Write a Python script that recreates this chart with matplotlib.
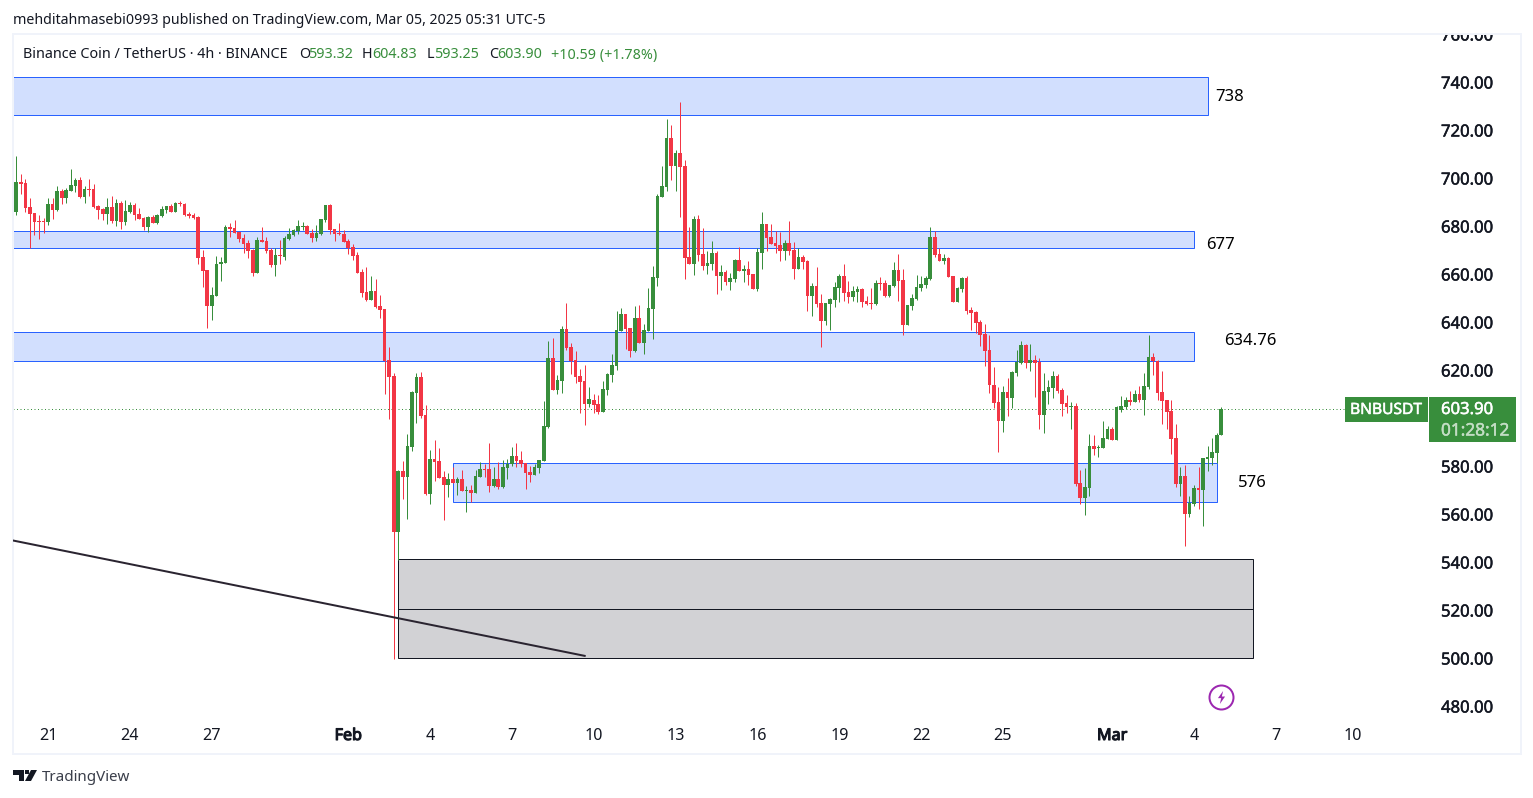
# BNB/USDT 4h chart, TradingView style
import numpy as np
import matplotlib
matplotlib.use('Agg')
import matplotlib.pyplot as plt
import matplotlib.patheffects as pe
from matplotlib.patches import Rectangle, Polygon

plt.rcParams['font.family'] = ['Noto Sans', 'DejaVu Sans']

W, H = 1533, 798

# G = green candle, R = red candle
directions = ('GRRRRRRGRG' 'RGGGRGRRRR' 'GRGRGGRRRG' 'RGGGRGRRRR'
              'RRRGGGGRRR' 'RRRGRRRGRG' 'GGGGRRGGGR' 'RRRRRRRRGR'
              'RRRRGRGGGR' 'RGRRRGRGRG' 'RGGRRGRGGG' 'RRRRGGGGRG'
              'GRRRRRGRRG' 'GGGGRRGRGG' 'GGGGRGRRRG' 'RRGGRGRGGR'
              'GRRGGRRRRG' 'RRGRRGRRGG' 'GGRRGGRRRG' 'RRGGRRGGGG'
              'GGRRGRRGGR' 'RRRRRRRGRG' 'GGRGRRGGGR' 'RRGRRGGRGG'
              'GRGGGRGRGG' 'RRRRRRGRGG' 'RGGGGG')

highs = [
    709.4,701.9,699.6,691.7,685.6,684.8,683.5,691.9,691.9,696.9,
    695.6,696.0,703.9,700.2,700.6,696.9,699.8,697.7,688.9,687.7,
    691.9,692.7,691.4,690.6,691.0,690.2,689.8,687.7,683.9,684.4,
    684.8,685.2,688.5,688.5,689.4,690.2,690.6,689.8,686.0,685.6,
    684.4,670.2,661.9,654.8,667.7,667.3,680.6,681.4,682.7,677.7,
    676.9,674.4,670.6,675.6,679.8,675.6,671.0,671.0,674.4,676.0,
    679.4,678.9,682.7,681.9,680.6,678.9,680.6,683.1,689.0,689.4,
    678.9,681.5,678.5,674.8,672.7,669.4,662.3,663.1,659.4,658.1,
    651.5,645.6,629.8,618.9,578.5,582.3,593.5,611.4,618.9,619.4,
    605.6,586.9,591.0,587.7,578.1,577.3,579.8,575.6,578.5,571.9,
    572.3,578.5,581.9,581.0,589.8,579.8,581.9,582.7,583.1,588.1,
    589.8,586.4,581.4,580.2,581.0,582.7,607.3,632.3,633.5,618.1,
    638.6,648.1,631.5,628.1,620.6,622.3,613.1,610.2,609.8,615.6,
    619.0,626.9,644.8,646.0,643.6,637.7,646.9,647.3,639.4,654.4,
    663.6,693.6,705.2,724.8,722.3,711.9,731.9,707.7,679.8,684.4,
    684.8,679.4,669.8,674.0,669.8,664.0,661.9,660.6,666.5,671.3,
    664.0,665.6,660.2,671.0,686.0,681.0,681.0,678.1,677.7,674.4,
    682.3,673.5,671.0,668.1,666.0,656.4,663.1,651.9,648.1,650.2,
    656.9,660.2,664.4,657.3,655.2,655.2,654.4,651.0,654.4,657.7,
    658.9,657.7,655.6,665.2,668.5,662.3,647.3,651.9,659.8,659.4,
    659.4,679.8,678.1,671.0,668.5,667.3,659.4,654.8,658.9,659.4,
    646.5,644.8,641.0,639.4,634.8,621.5,613.1,613.5,616.9,619.8,
    628.5,632.3,631.0,631.0,626.5,625.2,618.9,616.0,619.8,618.5,
    612.7,609.8,606.9,606.4,578.5,579.4,593.5,593.1,588.9,598.9,
    596.9,596.5,605.2,609.4,608.9,611.4,611.9,613.5,618.9,634.8,
    627.3,624.4,619.8,607.7,607.7,597.7,579.8,580.6,567.7,572.3,
    579.8,583.5,588.5,591.9,593.9,604.83]

body_tops = [
    698.5,698.5,698.1,688.1,685.6,682.3,682.3,689.4,689.4,694.8,
    694.8,695.2,697.3,699.4,699.4,695.6,695.6,695.6,688.5,687.3,
    688.1,688.1,689.8,689.8,686.4,689.0,689.0,685.2,683.5,683.9,
    683.9,684.8,687.3,688.5,688.5,689.8,689.8,689.4,685.2,684.8,
    683.9,667.3,661.9,651.5,664.4,665.2,679.8,679.8,679.4,677.7,
    675.2,673.1,670.2,674.4,674.4,673.9,670.2,668.1,668.1,675.2,
    676.9,678.5,680.2,680.2,680.2,677.3,677.3,683.1,689.0,689.0,
    678.9,677.3,676.9,673.9,671.5,668.1,661.0,652.7,653.1,653.1,
    646.9,645.6,624.4,617.7,578.1,578.1,588.5,611.0,617.3,617.3,
    601.4,583.1,583.1,582.3,575.6,574.8,574.8,574.8,574.8,570.2,
    570.2,576.0,578.9,578.9,578.9,574.8,574.8,579.8,581.0,584.4,
    584.4,582.7,581.4,577.7,579.8,582.7,596.9,625.2,625.2,616.0,
    637.3,637.3,629.8,624.4,617.7,615.6,608.1,607.7,606.0,612.3,
    618.6,622.3,636.9,643.6,643.6,637.7,641.9,641.9,636.9,646.0,
    659.0,692.7,696.9,716.9,716.9,710.6,710.6,705.2,667.3,683.1,
    683.1,668.6,664.8,669.0,669.0,661.0,661.0,658.5,666.0,666.0,
    662.3,662.3,660.2,669.4,681.0,681.0,675.6,673.1,672.3,673.1,
    673.1,670.2,667.3,667.3,665.6,655.2,655.2,648.1,648.1,649.8,
    654.8,659.4,659.4,652.7,653.1,653.9,653.9,648.9,648.1,656.4,
    656.4,656.4,655.6,661.9,661.9,657.7,647.3,650.2,654.8,656.0,
    658.5,675.6,675.6,668.5,666.9,666.9,659.4,654.4,658.5,658.5,
    645.2,644.4,640.1,635.2,628.5,614.0,606.9,611.0,611.0,619.4,
    623.5,630.6,630.6,624.4,624.4,623.5,611.4,613.1,617.7,617.7,
    611.9,606.4,605.2,605.2,573.1,571.5,588.5,588.5,588.1,591.9,
    595.6,595.6,604.8,605.2,607.7,607.7,610.2,610.2,613.5,625.6,
    625.6,623.9,611.0,607.7,603.1,591.9,576.0,576.0,564.8,571.0,
    571.0,583.5,583.9,586.0,593.1,603.90]

body_bottoms = [
    686.2,697.7,687.7,685.2,681.9,681.9,681.9,681.9,686.9,686.9,
    691.9,691.9,694.8,696.9,692.3,692.3,695.2,688.1,686.9,685.2,
    685.2,682.3,682.3,681.9,681.9,686.0,684.8,683.1,679.8,679.8,
    681.5,681.5,684.4,686.9,686.0,686.0,689.4,684.8,684.4,683.5,
    666.9,661.5,646.9,646.9,651.0,664.4,664.8,678.9,677.3,674.8,
    672.7,669.8,660.6,660.6,673.5,669.8,663.9,663.9,667.7,667.3,
    674.8,676.5,678.1,679.8,676.9,675.2,675.2,676.9,682.7,678.5,
    676.9,676.9,673.5,671.0,667.7,660.6,652.3,649.4,649.4,646.4,
    645.2,623.9,617.3,552.7,552.7,575.6,575.6,588.1,610.6,601.0,
    568.5,568.5,581.9,575.2,572.3,572.3,573.1,573.1,569.8,569.8,
    568.9,568.9,575.6,578.5,571.9,571.9,571.5,571.5,579.4,581.0,
    582.3,581.0,577.3,576.4,576.4,579.4,582.3,596.4,611.9,611.9,
    615.6,629.4,624.0,617.3,615.2,606.0,606.0,605.6,602.7,602.7,
    611.9,618.1,621.9,636.5,637.3,628.1,628.1,631.5,631.5,636.5,
    645.6,658.5,692.3,696.5,705.2,705.2,704.8,666.9,664.4,664.4,
    668.1,663.6,663.6,664.4,659.4,659.4,656.9,656.9,658.1,661.5,
    661.5,659.8,653.9,653.9,668.9,675.2,672.7,671.9,669.8,669.8,
    669.8,662.3,662.3,665.2,651.0,651.0,647.7,640.6,640.6,647.7,
    649.4,654.4,652.3,650.6,650.6,652.7,648.5,647.7,647.7,647.7,
    656.0,651.0,651.0,655.2,657.3,638.9,638.9,646.9,649.8,654.4,
    655.6,658.1,668.1,665.6,665.6,658.9,648.5,648.5,653.9,644.8,
    643.9,639.8,634.8,628.1,614.0,606.5,598.9,598.9,608.5,608.5,
    618.9,623.1,623.1,623.1,623.1,601.4,601.4,611.0,612.7,611.4,
    606.0,604.8,604.8,572.7,566.9,566.9,571.0,587.3,587.7,587.7,
    591.5,591.0,591.0,603.5,604.8,606.9,606.9,607.7,607.7,613.1,
    623.9,610.6,607.3,602.7,591.5,572.7,572.7,560.2,560.2,564.4,
    570.2,570.2,583.1,583.5,585.6,593.32]

lows = [
    684.8,693.5,686.0,671.0,676.4,674.8,677.3,680.6,683.1,686.4,
    689.4,689.8,694.8,694.4,691.9,689.8,692.7,687.7,683.1,682.7,
    681.0,681.5,680.2,679.0,680.6,685.6,682.7,683.1,678.5,677.7,
    681.5,681.0,683.9,685.6,686.0,686.0,688.5,684.4,683.5,683.1,
    664.4,654.8,637.7,641.0,651.0,657.3,664.8,675.6,677.3,673.5,
    669.0,666.9,659.4,660.6,673.5,669.0,663.1,659.4,664.4,666.0,
    674.4,676.0,676.9,678.5,676.9,673.5,673.9,676.5,681.9,676.9,
    673.9,676.5,673.5,668.5,666.0,660.6,650.6,649.0,649.4,646.0,
    641.9,610.2,599.8,500.0,541.0,566.4,558.1,586.4,598.1,600.2,
    568.1,564.4,573.9,575.2,557.7,567.3,573.1,568.1,569.8,561.0,
    565.2,568.9,575.6,575.6,569.4,571.5,570.6,571.0,574.8,580.2,
    579.8,579.8,570.6,573.5,576.4,577.3,582.3,596.0,611.9,610.2,
    610.6,628.6,618.6,614.8,602.3,597.3,604.8,602.3,601.9,602.7,
    609.8,615.2,620.2,636.5,629.0,625.6,627.7,631.5,626.9,636.5,
    633.1,655.2,692.3,694.8,699.4,694.8,684.0,658.1,664.4,659.8,
    665.6,661.9,660.2,661.9,651.9,653.5,655.6,653.5,656.9,661.5,
    656.9,655.6,653.9,653.1,662.3,669.8,672.7,668.9,665.6,666.0,
    668.1,658.1,662.3,662.3,644.8,642.7,646.4,629.8,638.9,636.9,
    646.4,648.5,649.0,648.1,648.9,648.5,646.4,647.3,645.6,647.3,
    653.5,650.6,650.6,654.8,648.9,634.8,638.9,645.2,649.4,653.1,
    654.4,657.7,667.3,665.6,664.4,658.9,648.5,648.5,652.7,643.5,
    636.9,635.6,630.2,621.9,610.6,604.4,586.0,594.4,601.0,604.4,
    617.7,622.7,621.0,619.8,608.9,595.6,593.9,606.0,608.5,610.6,
    601.0,602.3,595.6,571.9,564.4,559.8,567.7,584.8,583.9,587.7,
    591.5,591.0,591.0,602.7,603.9,605.6,606.9,606.9,601.4,612.3,
    618.1,607.7,597.7,595.6,585.2,571.5,567.7,546.9,558.9,563.5,
    562.3,555.2,578.1,580.6,581.5,593.25]

price_ticks = [760, 740, 720, 700, 680, 660, 640, 620, 580, 560, 540, 520, 500, 480]
date_ticks = [7, 25, 43, 73, 91, 109, 127, 145, 163, 181, 199, 217, 241, 259, 277, 294]
date_labels = ['21', '24', '27', 'Feb', '4', '7', '10', '13', '16', '19', '22', '25', 'Mar', '4', '7', '10']
bold_dates = ['Feb', 'Mar']

# zones: first candle, last candle, top price, bottom price
zone_starts = [-5, -5, -5, 96]
zone_ends = [262, 259, 259, 264]
zone_tops = [742.1, 678.2, 636.0, 581.5]
zone_bottoms = [726.6, 671.0, 624.0, 565.3]

grey_start, grey_end = 84, 272
grey_top, grey_mid, grey_bottom = 541.5, 520.7, 500.3
trend_x = [-5, 125]
trend_y = [550.8, 501.1]
last_price = 603.9

RED = '#f23645'
GREEN = '#388e3c'
BLUE = '#2962ff'
ZONE = '#d2dffe'
DARK = '#131722'
GREY_BORDER = '#f0f3fa'
PX = 0.72  # one pixel in points at dpi 100


def fx(px):
    return px / W


def fy(py):
    return 1 - py / H


def heavy(col, width=0.35):
    # fake a medium weight, Noto Sans has no usable one here
    return [pe.withStroke(linewidth=width, foreground=col)]


fig = plt.figure(figsize=(W / 100, H / 100), dpi=100, facecolor='white')
ax = fig.add_axes([fx(13), fy(754), (1521 - 13) / W, (754 - 34) / H])

pitch = 4.547
ax.set_xlim((13 - 16.3) / pitch, (1521 - 16.3) / pitch)
ax.set_ylim(480 - (754 - 706.5) / 2.4, 740 + (82.5 - 34) / 2.4)

# zones
for x0, x1, top, bot in zip(zone_starts, zone_ends, zone_tops, zone_bottoms):
    ax.add_patch(Rectangle((x0, bot), x1 - x0, top - bot, fc=ZONE, ec=BLUE, lw=PX, zorder=1))
ax.add_patch(Rectangle((grey_start, grey_bottom), grey_end - grey_start, grey_top - grey_bottom,
                       fc='#d2d2d5', ec=DARK, lw=PX, zorder=1))
ax.plot([grey_start, grey_end], [grey_mid, grey_mid], color=DARK, lw=PX, zorder=1.5)

# last price line
ax.plot([-5, (1345 - 16.3) / pitch], [last_price, last_price], color=GREEN, lw=PX,
        ls=(0, (1, 2.5)), zorder=1.5)

# candles
idx = np.arange(len(highs))
colors = [GREEN if d == 'G' else RED for d in directions]
ax.vlines(idx, lows, highs, colors=colors, lw=PX, zorder=3)
ax.bar(idx, np.array(body_tops) - np.array(body_bottoms), bottom=body_bottoms,
       width=0.8, color=colors, lw=0, zorder=4)

# trend line goes over the candles
ax.plot(trend_x, trend_y, color='#2a2430', lw=2 * PX, zorder=5)

# lightning mark
ax.plot([265], [484], marker='o', ms=24 * PX, mfc='none', mec='#9c27b0', mew=2 * PX, zorder=6)
bolt = [(0.25, 1), (-0.55, -0.1), (-0.05, -0.1), (-0.25, -1), (0.55, 0.15), (0.05, 0.15)]
ax.plot([265], [484], marker=bolt, ms=13 * PX, mfc='#9c27b0', mec='none', zorder=6)

# axes look
for s in ax.spines.values():
    s.set_color(GREY_BORDER)
    s.set_linewidth(2 * PX)
ax.yaxis.tick_right()
ax.set_yticks(price_ticks)
ax.set_yticklabels(['%.2f' % p for p in price_ticks])
ax.set_xticks(date_ticks)
ax.set_xticklabels(date_labels)
ax.tick_params(axis='both', length=0)
ax.tick_params(axis='y', pad=-80 * PX, labelsize=12, labelcolor=DARK)
ax.tick_params(axis='x', pad=-20 * PX, labelsize=11.6, labelcolor=DARK)
for lab in ax.get_yticklabels():
    lab.set_clip_on(True)
    lab.set_clip_box(ax.bbox)
    lab.set_path_effects(heavy(DARK))
for lab in ax.get_xticklabels():
    lab.set_va('center_baseline')
    if lab.get_text() in bold_dates:
        lab.set_path_effects(heavy(DARK, 0.8))

# level labels
levels = [('738', 1215, 97), ('677', 1206, 245), ('634.76', 1224, 341), ('576', 1238, 483)]
for txt, px, py in levels:
    fig.text(fx(px), fy(py), txt, fontsize=12, color='black', va='center')

# header
fig.text(fx(13), fy(21), 'mehditahmasebi0993 published on TradingView.com, Mar 05, 2025 05:31 UTC-5',
         fontsize=10.2, color=DARK, va='center')
fig.text(fx(23), fy(55), 'Binance Coin / TetherUS · 4h · BINANCE', fontsize=10.35, color=DARK, va='center')
header_parts = [('O', 299, DARK), ('593.32', 308, GREEN), ('H', 362, DARK), ('604.83', 372, GREEN),
                ('L', 427, DARK), ('593.25', 434, GREEN), ('C', 489, DARK), ('603.90', 497, GREEN),
                ('+10.59 (+1.78%)', 551, GREEN)]
for txt, px, col in header_parts:
    fig.text(fx(px), fy(55), txt, fontsize=10.3, color=col, va='center')

# price tags on the right
fig.patches.append(Rectangle((fx(1345), fy(422)), 83 / W, 25 / H, transform=fig.transFigure,
                             fc=GREEN, ec='none', zorder=5))
fig.patches.append(Rectangle((fx(1429), fy(442)), 87 / W, 45 / H, transform=fig.transFigure,
                             fc=GREEN, ec='none', zorder=5))
fig.text(fx(1386), fy(410), 'BNBUSDT', fontsize=11.2, color='white', ha='center', va='center', zorder=6,
         path_effects=heavy('white'))
fig.text(fx(1441), fy(410), '603.90', fontsize=12, color='white', va='center', zorder=6,
         path_effects=heavy('white'))
fig.text(fx(1441), fy(430.5), '01:28:12', fontsize=12.4, color='#c3ddc4', va='center', zorder=6,
         path_effects=heavy('#c3ddc4'))

# TradingView logo
logo = [[(13, 770), (24, 770), (24, 781), (19, 781), (19, 775), (13, 775)],
        [(31, 770), (37, 770), (31, 781), (25, 781)]]
for pts in logo:
    fig.patches.append(Polygon([(fx(a), fy(b)) for a, b in pts], transform=fig.transFigure,
                               fc=DARK, ec='none', zorder=5))
fig.patches.append(Rectangle((fx(25), fy(774)), 4 / W, 4 / H, transform=fig.transFigure,
                             fc=DARK, ec='none', zorder=5))
fig.text(fx(42), fy(777.5), 'TradingView', fontsize=10.9, color='#3a3e4a', va='center')

fig.savefig('out.png', dpi=100)
